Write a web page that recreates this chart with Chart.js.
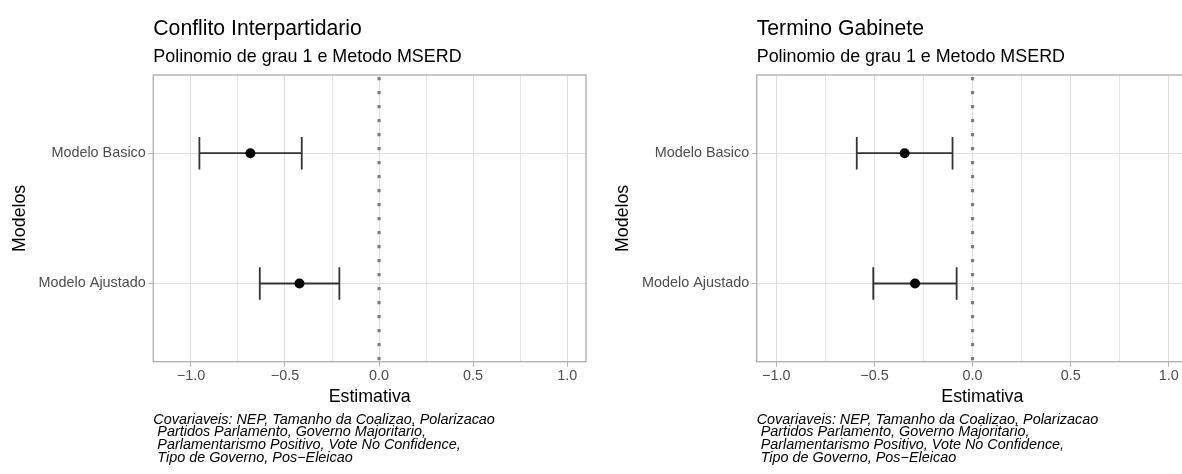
<!DOCTYPE html>
<html>
<head>
<meta charset="utf-8">
<script src="https://cdn.jsdelivr.net/npm/chart.js@4.4.1/dist/chart.umd.min.js"></script>
<style>
  body { margin: 0; width: 1182px; height: 474px; overflow: hidden; background: #fff; position: relative; }
  .box { position: absolute; top: 0; height: 474px; }
</style>
</head>
<body>
<div class="box" style="left:0"><canvas id="conflito" width="591" height="474"></canvas></div>
<div class="box" style="left:603px"><canvas id="gabinete" width="610" height="474"></canvas></div>
<script>
// models, bottom to top (as in the plot)
const models = ['Modelo Ajustado', 'Modelo Basico'];

// Conflito Interpartidario
const conflitoEst  = [-0.423, -0.684];
const conflitoLow  = [-0.634, -0.955];
const conflitoHigh = [-0.211, -0.411];

// Termino Gabinete
const gabineteEst  = [-0.293, -0.346];
const gabineteLow  = [-0.506, -0.590];
const gabineteHigh = [-0.081, -0.102];

// x grid (major at 0.5, minor at 0.25)
const xTicks = [-1.0, -0.75, -0.5, -0.25, 0, 0.25, 0.5, 0.75, 1.0];

const subtitle = 'Polinomio de grau 1 e Metodo MSERD';
const captionLines = [
    'Covariaveis: NEP, Tamanho da Coalizao, Polarizacao',
    ' Partidos Parlamento, Governo Majoritario,',
    ' Parlamentarismo Positivo, Vote No Confidence,',
    ' Tipo de Governo, Pos\u2212Eleicao'
];

const FONT = '"Liberation Sans", Arial, Helvetica, sans-serif';

function isMajor(v) {
    return Math.abs(v * 2 - Math.round(v * 2)) < 1e-6;
}
function fmt(v) {
    return v.toFixed(1).replace('-', '\u2212');
}

// dotted zero line + error bars, drawn under the points
const errorBars = {
    id: 'errorBars',
    beforeDatasetsDraw(chart, args, opts) {
        const {ctx, chartArea, scales: {x, y}} = chart;
        ctx.save();
        ctx.beginPath();
        ctx.rect(chartArea.left, chartArea.top, chartArea.right - chartArea.left, chartArea.bottom - chartArea.top);
        ctx.clip();

        const x0 = x.getPixelForValue(0);
        ctx.strokeStyle = '#7f7f7f';
        ctx.lineWidth = 3.2;
        ctx.setLineDash([3.2, 10.8]);
        ctx.lineDashOffset = 12;
        ctx.beginPath();
        ctx.moveTo(x0, chartArea.top);
        ctx.lineTo(x0, chartArea.bottom);
        ctx.stroke();

        ctx.setLineDash([]);
        ctx.strokeStyle = '#333333';
        ctx.lineWidth = 1.8;
        opts.low.forEach((lo, i) => {
            const hi = opts.high[i];
            const yc = y.getPixelForValue(i + 1);
            const half = Math.abs(y.getPixelForValue(i + 1 + 0.125) - yc);
            const xl = x.getPixelForValue(lo);
            const xh = x.getPixelForValue(hi);
            ctx.beginPath();
            ctx.moveTo(xl, yc); ctx.lineTo(xh, yc);
            ctx.moveTo(xl, yc - half); ctx.lineTo(xl, yc + half);
            ctx.moveTo(xh, yc - half); ctx.lineTo(xh, yc + half);
            ctx.stroke();
        });
        ctx.restore();
    }
};

// panel border, title, subtitle and caption
const decorations = {
    id: 'decorations',
    afterDraw(chart, args, opts) {
        const {ctx, chartArea} = chart;
        ctx.save();
        ctx.strokeStyle = '#b3b3b3';
        ctx.lineWidth = 1.4;
        ctx.strokeRect(chartArea.left, chartArea.top, chartArea.right - chartArea.left, chartArea.bottom - chartArea.top);

        ctx.fillStyle = '#000';
        ctx.textAlign = 'left';
        ctx.textBaseline = 'alphabetic';
        ctx.font = '21.2px ' + FONT;
        ctx.fillText(opts.title, chartArea.left, 35);
        ctx.font = '17.9px ' + FONT;
        ctx.fillText(subtitle, chartArea.left, 61.5);

        ctx.font = 'italic 14.4px ' + FONT;
        captionLines.forEach((line, i) => {
            ctx.fillText(line, chartArea.left, 423.5 + i * 12.7);
        });
        ctx.restore();
    }
};

function makeChart(id, title, est, low, high, xMin, xMax, yWidth) {
    return new Chart(document.getElementById(id), {
        type: 'scatter',
        data: {
            datasets: [{
                data: est.map((v, i) => ({x: v, y: i + 1})),
                pointRadius: 5,
                pointHoverRadius: 5,
                backgroundColor: '#000',
                borderWidth: 0
            }]
        },
        options: {
            responsive: false,
            animation: false,
            events: [],
            layout: {padding: {top: 75, right: 2.7, bottom: 0, left: 0}},
            plugins: {
                legend: {display: false},
                tooltip: {enabled: false},
                errorBars: {low: low, high: high},
                decorations: {title: title}
            },
            scales: {
                x: {
                    type: 'linear',
                    min: xMin,
                    max: xMax,
                    afterBuildTicks: (scale) => { scale.ticks = xTicks.map(v => ({value: v})); },
                    afterFit: (scale) => { scale.height = 112.3; },
                    border: {display: false},
                    grid: {
                        color: '#dedede',
                        lineWidth: (c) => (c.tick && isMajor(c.tick.value) ? 1 : 0.8),
                        tickColor: (c) => (c.tick && isMajor(c.tick.value) ? '#b3b3b3' : 'rgba(0,0,0,0)'),
                        tickLength: 5,
                        tickWidth: 1
                    },
                    ticks: {
                        autoSkip: false,
                        maxRotation: 0,
                        padding: 1,
                        color: '#4d4d4d',
                        font: {family: FONT, size: 14.4},
                        callback: (v) => (isMajor(v) ? fmt(v) : '')
                    },
                    title: {
                        display: true,
                        text: 'Estimativa',
                        color: '#000',
                        font: {family: FONT, size: 17.8},
                        padding: {top: 0, bottom: 66.7}
                    }
                },
                y: {
                    type: 'linear',
                    min: 0.4,
                    max: 2.6,
                    afterBuildTicks: (scale) => { scale.ticks = models.map((m, i) => ({value: i + 1})); },
                    afterFit: (scale) => { scale.width = yWidth; },
                    border: {display: false},
                    grid: {
                        color: '#dedede',
                        lineWidth: 1,
                        tickColor: '#b3b3b3',
                        tickLength: 5,
                        tickWidth: 1
                    },
                    ticks: {
                        padding: 2.5,
                        color: '#4d4d4d',
                        font: {family: FONT, size: 14.4},
                        callback: (v) => models[Math.round(v) - 1]
                    },
                    title: {
                        display: true,
                        text: 'Modelos',
                        color: '#000',
                        font: {family: FONT, size: 17.8},
                        padding: {top: 9.3, bottom: 0}
                    }
                }
            }
        },
        plugins: [errorBars, decorations]
    });
}

makeChart('conflito', 'Conflito Interpartidario', conflitoEst, conflitoLow, conflitoHigh, -1.2, 1.1, 153.3);
makeChart('gabinete', 'Termino Gabinete', gabineteEst, gabineteLow, gabineteHigh, -1.1, 1.2, 153.7);
</script>
</body>
</html>
